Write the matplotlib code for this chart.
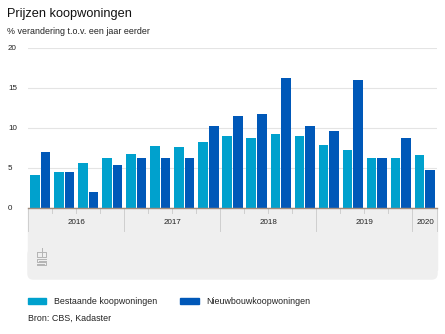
import matplotlib
matplotlib.use("Agg")
import matplotlib.pyplot as plt
from matplotlib.patches import Rectangle, FancyBboxPatch
from matplotlib.lines import Line2D
from matplotlib.transforms import blended_transform_factory
import numpy as np

plt.rcParams['font.family'] = ['Liberation Sans', 'DejaVu Sans']

# data: year-on-year price change per quarter (2016 Q1 .. 2020 Q1)
quarters = ['2016 Q1', '2016 Q2', '2016 Q3', '2016 Q4',
            '2017 Q1', '2017 Q2', '2017 Q3', '2017 Q4',
            '2018 Q1', '2018 Q2', '2018 Q3', '2018 Q4',
            '2019 Q1', '2019 Q2', '2019 Q3', '2019 Q4',
            '2020 Q1']
bestaand = [4.1, 4.5, 5.6, 6.2, 6.8, 7.7, 7.6, 8.3,
            9.0, 8.8, 9.2, 9.0, 7.9, 7.2, 6.3, 6.2, 6.6]
nieuwbouw = [7.0, 4.5, 2.0, 5.4, 6.2, 6.3, 6.2, 10.2,
             11.5, 11.7, 16.3, 10.2, 9.6, 16.0, 6.3, 8.7, 4.8]
years = ['2016', '2017', '2018', '2019', '2020']
yticks = [0, 5, 10, 15, 20]

light = '#00a1cd'
dark = '#0058b8'

W, H = 445, 334
fig = plt.figure(figsize=(W / 100, H / 100), dpi=100)


def fx(x):
    return x / W


def fy(y):
    return 1 - y / H


# axes: x 28..437 px, value 0 at y=208, 20 at y=48
ax = fig.add_axes([fx(28), fy(208), (437 - 28) / W, 160 / H])
ax.set_zorder(2)
ax.set_facecolor('none')
n = len(quarters)
x = np.arange(n)
bw = 0.40
ax.bar(x - 0.22, bestaand, width=bw, color=light, zorder=3)
ax.bar(x + 0.22, nieuwbouw, width=bw, color=dark, zorder=3)
ax.set_xlim(-0.5, n - 0.5)
ax.set_ylim(0, 20)
ax.set_yticks(yticks)
ax.set_yticklabels([str(t) for t in yticks])
ax.set_xticks([])
ax.grid(axis='y', color='#e4e4e4', linewidth=0.8, zorder=0)
for s in ['top', 'right', 'left']:
    ax.spines[s].set_visible(False)
ax.spines['bottom'].set_color('#a08c7d')
ax.spines['bottom'].set_linewidth(1.0)
ax.spines['bottom'].set_zorder(4)
ax.tick_params(axis='y', length=0, pad=14.4, labelsize=5.8, labelcolor='#222222')
for lab in ax.get_yticklabels():
    lab.set_horizontalalignment('left')

# grey band under the axis
band_col = '#efefef'
fig.patches.append(Rectangle((fx(28), fy(270)), (437 - 28) / W, 62 / H,
                             transform=fig.transFigure, color=band_col, zorder=0))
fig.patches.append(FancyBboxPatch((fx(28), fy(279)), (437 - 28) / W, 30 / H,
                                  boxstyle='round,pad=0,rounding_size=0.012',
                                  mutation_aspect=W / H,
                                  transform=fig.transFigure, color=band_col,
                                  zorder=0))

# quarter and year separators
sep_col = '#cfcfcf'
for k in range(0, n + 1):
    xp = 28 + 24 * k if k < n else 437
    if k % 4 == 0 or k == n:
        y2 = 231
    else:
        y2 = 213
    fig.add_artist(Line2D([fx(xp), fx(xp)], [fy(208), fy(y2)],
                          color=sep_col, linewidth=0.7, transform=fig.transFigure,
                          zorder=1))

# year labels
year_tr = blended_transform_factory(ax.transData, fig.transFigure)
for i, yr in enumerate(years):
    start = 4 * i - 0.5
    end = min(4 * i + 3.5, n - 0.5)
    ax.text((start + end) / 2, fy(222), yr, transform=year_tr,
            ha='center', va='center', fontsize=5.8, color='#222222',
            clip_on=False)

# small cbs logo (approximation)
logo_col = '#b4b4b4'
logo = [
    [(37, 252), (37, 257), (41, 257)],
    [(37, 252), (41, 252)],
    [(42, 248), (42, 257), (46, 257), (46, 252), (42, 252)],
    [(46, 259), (37, 259), (37, 262), (46, 262), (46, 265), (37, 265)],
    [(39, 260.5), (46, 260.5)],
    [(37, 263.5), (44, 263.5)],
]
for seg in logo:
    xs = [fx(p[0]) for p in seg]
    ys = [fy(p[1]) for p in seg]
    fig.add_artist(Line2D(xs, ys, color=logo_col, linewidth=0.7,
                          transform=fig.transFigure, zorder=1))

# titles
fig.text(fx(7), fy(17.5), 'Prijzen koopwoningen', fontsize=9.2,
         color='#111111', va='baseline')
fig.text(fx(7), fy(34.5), '% verandering t.o.v. een jaar eerder', fontsize=6.4,
         color='#222222', va='baseline')

# legend
fig.patches.append(Rectangle((fx(28), fy(304)), 18 / W, 6 / H,
                             transform=fig.transFigure, color=light))
fig.text(fx(54), fy(301), 'Bestaande koopwoningen', fontsize=6.4,
         color='#222222', va='center')
fig.patches.append(Rectangle((fx(180), fy(304)), 19 / W, 6 / H,
                             transform=fig.transFigure, color=dark))
fig.text(fx(206.5), fy(301), 'Nieuwbouwkoopwoningen', fontsize=6.4,
         color='#222222', va='center')
fig.text(fx(28), fy(318), 'Bron: CBS, Kadaster', fontsize=6.4,
         color='#222222', va='center')

fig.savefig('out.png', dpi=100)
